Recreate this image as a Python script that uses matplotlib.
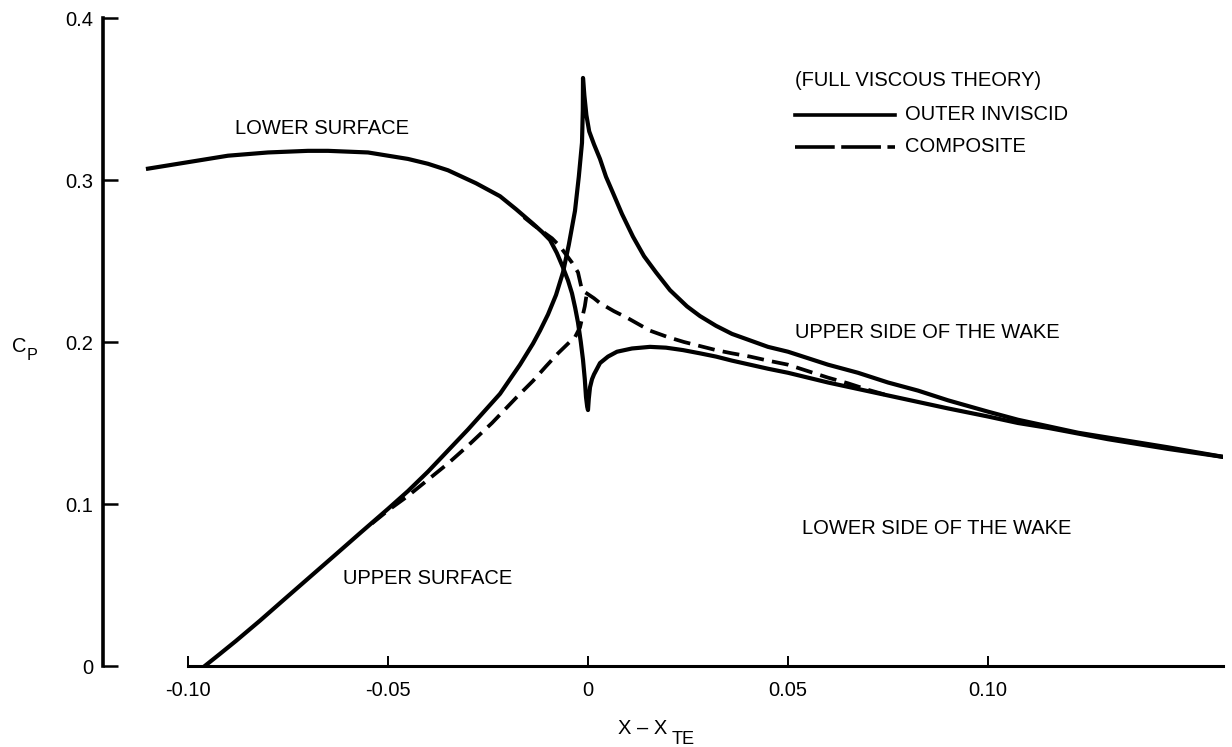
import matplotlib
matplotlib.use("Agg")
import matplotlib.pyplot as plt
from matplotlib.lines import Line2D

plt.rcParams["font.family"] = ["Liberation Sans", "DejaVu Sans"]

# Outer inviscid solution: upper surface, through the peak, into the upper side of the wake
upper_x = [-0.0958, -0.092, -0.088, -0.082, -0.076, -0.0695, -0.063, -0.057,
           -0.050, -0.045, -0.040, -0.035, -0.030, -0.026, -0.022, -0.0195, -0.017,
           -0.01375, -0.012, -0.010, -0.008, -0.00625, -0.0048, -0.00325, -0.0023,
           -0.0015, -0.0013, -0.00125,
           -0.0009, -0.0004, 0.0003, 0.0015, 0.003, 0.0045, 0.00625, 0.0085, 0.01125,
           0.014, 0.017, 0.0205, 0.02475, 0.028, 0.032, 0.036, 0.0405, 0.045, 0.050,
           0.055, 0.060, 0.0675, 0.075, 0.0825, 0.090, 0.100, 0.1075, 0.115, 0.1225,
           0.130, 0.1375, 0.145, 0.152, 0.159]
upper_cp = [0.000, 0.0075, 0.0155, 0.028, 0.041, 0.055, 0.069, 0.082,
            0.097, 0.108, 0.120, 0.133, 0.146, 0.157, 0.168, 0.177, 0.186,
            0.199, 0.207, 0.217, 0.229, 0.243, 0.260, 0.281, 0.302,
            0.323, 0.343, 0.363,
            0.352, 0.340, 0.330, 0.322, 0.313, 0.302, 0.292, 0.279, 0.265,
            0.253, 0.243, 0.232, 0.222, 0.216, 0.210, 0.205, 0.201, 0.197, 0.194,
            0.190, 0.186, 0.181, 0.175, 0.170, 0.164, 0.157, 0.152, 0.148, 0.144,
            0.141, 0.138, 0.135, 0.132, 0.129]

# Outer inviscid solution: lower surface, down to the cusp, into the lower side of the wake
lower_x = [-0.110, -0.105, -0.100, -0.095, -0.090, -0.085, -0.080, -0.075, -0.070,
           -0.065, -0.060, -0.055, -0.050, -0.045, -0.040, -0.035, -0.0315, -0.028,
           -0.025, -0.022, -0.018, -0.01375, -0.0115, -0.0095, -0.0078, -0.00625,
           -0.005, -0.004, -0.0032, -0.0025, -0.0018, -0.00125, -0.0008, -0.0005,
           -0.0002, 0.000,
           0.0002, 0.0005, 0.001, 0.0015, 0.003, 0.005, 0.00725, 0.011, 0.0155,
           0.0195, 0.02375, 0.028, 0.032, 0.036, 0.0405, 0.045, 0.050, 0.055, 0.060,
           0.0675, 0.075, 0.0825, 0.090, 0.100, 0.1075, 0.115, 0.1225, 0.130, 0.1375,
           0.145, 0.152, 0.159]
lower_cp = [0.307, 0.309, 0.311, 0.313, 0.315, 0.316, 0.317, 0.3175, 0.318,
            0.318, 0.3175, 0.317, 0.315, 0.313, 0.310, 0.306, 0.302, 0.298,
            0.294, 0.290, 0.282, 0.273, 0.268, 0.263, 0.255, 0.246,
            0.238, 0.230, 0.221, 0.212, 0.200, 0.189, 0.177, 0.166,
            0.160, 0.158,
            0.165, 0.172, 0.177, 0.180, 0.187, 0.191, 0.194, 0.196, 0.197,
            0.1965, 0.195, 0.193, 0.191, 0.1885, 0.186, 0.1835, 0.181, 0.178, 0.175,
            0.171, 0.167, 0.163, 0.159, 0.154, 0.150, 0.147, 0.1435, 0.140, 0.137,
            0.134, 0.1315, 0.129]

# Composite solution, lower surface branch continuing into the wake
comp_lower_x = [-0.016, -0.0135, -0.01125, -0.009, -0.007, -0.0055, -0.004, -0.0025,
                -0.0015, -0.0003, 0.0015, 0.003, 0.0065, 0.00975, 0.0155, 0.020,
                0.024, 0.028, 0.032, 0.036, 0.0405, 0.045, 0.050, 0.055, 0.060,
                0.065, 0.070, 0.075]
comp_lower_cp = [0.277, 0.272, 0.268, 0.264, 0.259, 0.254, 0.249, 0.243,
                 0.232, 0.230, 0.227, 0.224, 0.219, 0.215, 0.207, 0.203,
                 0.200, 0.1975, 0.195, 0.193, 0.191, 0.1885, 0.186, 0.182, 0.178,
                 0.1745, 0.1705, 0.167]

# Composite solution, upper surface branch
comp_upper_x = [-0.054, -0.050, -0.045, -0.040, -0.035, -0.030, -0.024, -0.0178,
                -0.01375, -0.0105, -0.0075, -0.005, -0.00325, -0.002, -0.0008, -0.0003]
comp_upper_cp = [0.088, 0.096, 0.105, 0.115, 0.125, 0.136, 0.150, 0.166,
                 0.176, 0.185, 0.193, 0.199, 0.203, 0.209, 0.222, 0.230]

x_ticks = [-0.10, -0.05, 0.0, 0.05, 0.10]
x_tick_labels = ["-0.10", "-0.05", "0", "0.05", "0.10"]
y_ticks = [0.0, 0.1, 0.2, 0.3, 0.4]
y_tick_labels = ["0", "0.1", "0.2", "0.3", "0.4"]

W, H = 1232, 747
FS = 14.5
LW = 3.0


def fx(px):
    return px / W


def fy(py):
    return 1 - py / H


fig = plt.figure(figsize=(W / 100, H / 100), dpi=100)
ax = fig.add_axes([fx(103), fy(666), (1223 - 103) / W, (666 - 18) / H])
ax.set_xlim(-0.12125, 0.15875)
ax.set_ylim(0.0, 0.4)

ax.plot(upper_x, upper_cp, color="black", lw=LW, solid_joinstyle="round")
ax.plot(lower_x, lower_cp, color="black", lw=LW, solid_joinstyle="round")
ax.plot(comp_lower_x, comp_lower_cp, color="black", lw=LW * 0.9, dashes=[4.5, 2.2])
ax.plot(comp_upper_x, comp_upper_cp, color="black", lw=LW * 0.9, dashes=[4.5, 2.2])

for side in ("top", "right"):
    ax.spines[side].set_visible(False)
ax.spines["left"].set_bounds(0.0, 0.4)
ax.spines["left"].set_linewidth(2.6)
ax.spines["bottom"].set_bounds(-0.10, 0.15875)
ax.spines["bottom"].set_linewidth(2.2)

ax.set_xticks(x_ticks)
ax.set_xticklabels(x_tick_labels)
ax.set_yticks(y_ticks)
ax.set_yticklabels(y_tick_labels)
ax.tick_params(axis="y", direction="in", length=11, width=1.8, pad=7, labelsize=FS)
ax.tick_params(axis="x", direction="in", length=7, width=1.4, pad=11, labelsize=FS)

# axis titles
fig.text(fx(618), fy(729), "X – X", fontsize=FS, ha="left", va="center")
fig.text(fx(672), fy(740), "TE", fontsize=FS * 0.9, ha="left", va="center")
fig.text(fx(12), fy(347), "C", fontsize=FS, ha="left", va="center")
fig.text(fx(27), fy(355), "P", fontsize=FS * 0.8, ha="left", va="center")

# curve annotations
fig.text(fx(235), fy(128), "LOWER SURFACE", fontsize=FS, ha="left", va="center")
fig.text(fx(343), fy(578), "UPPER SURFACE", fontsize=FS, ha="left", va="center")
fig.text(fx(795), fy(332), "UPPER SIDE OF THE WAKE", fontsize=FS, ha="left", va="center")
fig.text(fx(802), fy(528), "LOWER SIDE OF THE WAKE", fontsize=FS, ha="left", va="center")

# key
fig.text(fx(795), fy(81), "(FULL VISCOUS THEORY)", fontsize=FS, ha="left", va="center")
fig.add_artist(Line2D([fx(795), fx(895)], [fy(115), fy(115)], color="black", lw=2.6,
                      transform=fig.transFigure))
fig.text(fx(905), fy(115), "OUTER INVISCID", fontsize=FS, ha="left", va="center")
fig.add_artist(Line2D([fx(795), fx(895)], [fy(147), fy(147)], color="black", lw=2.6,
                      dashes=[11, 1.8], transform=fig.transFigure))
fig.text(fx(905), fy(147), "COMPOSITE", fontsize=FS, ha="left", va="center")

fig.savefig("out.png", dpi=100)
